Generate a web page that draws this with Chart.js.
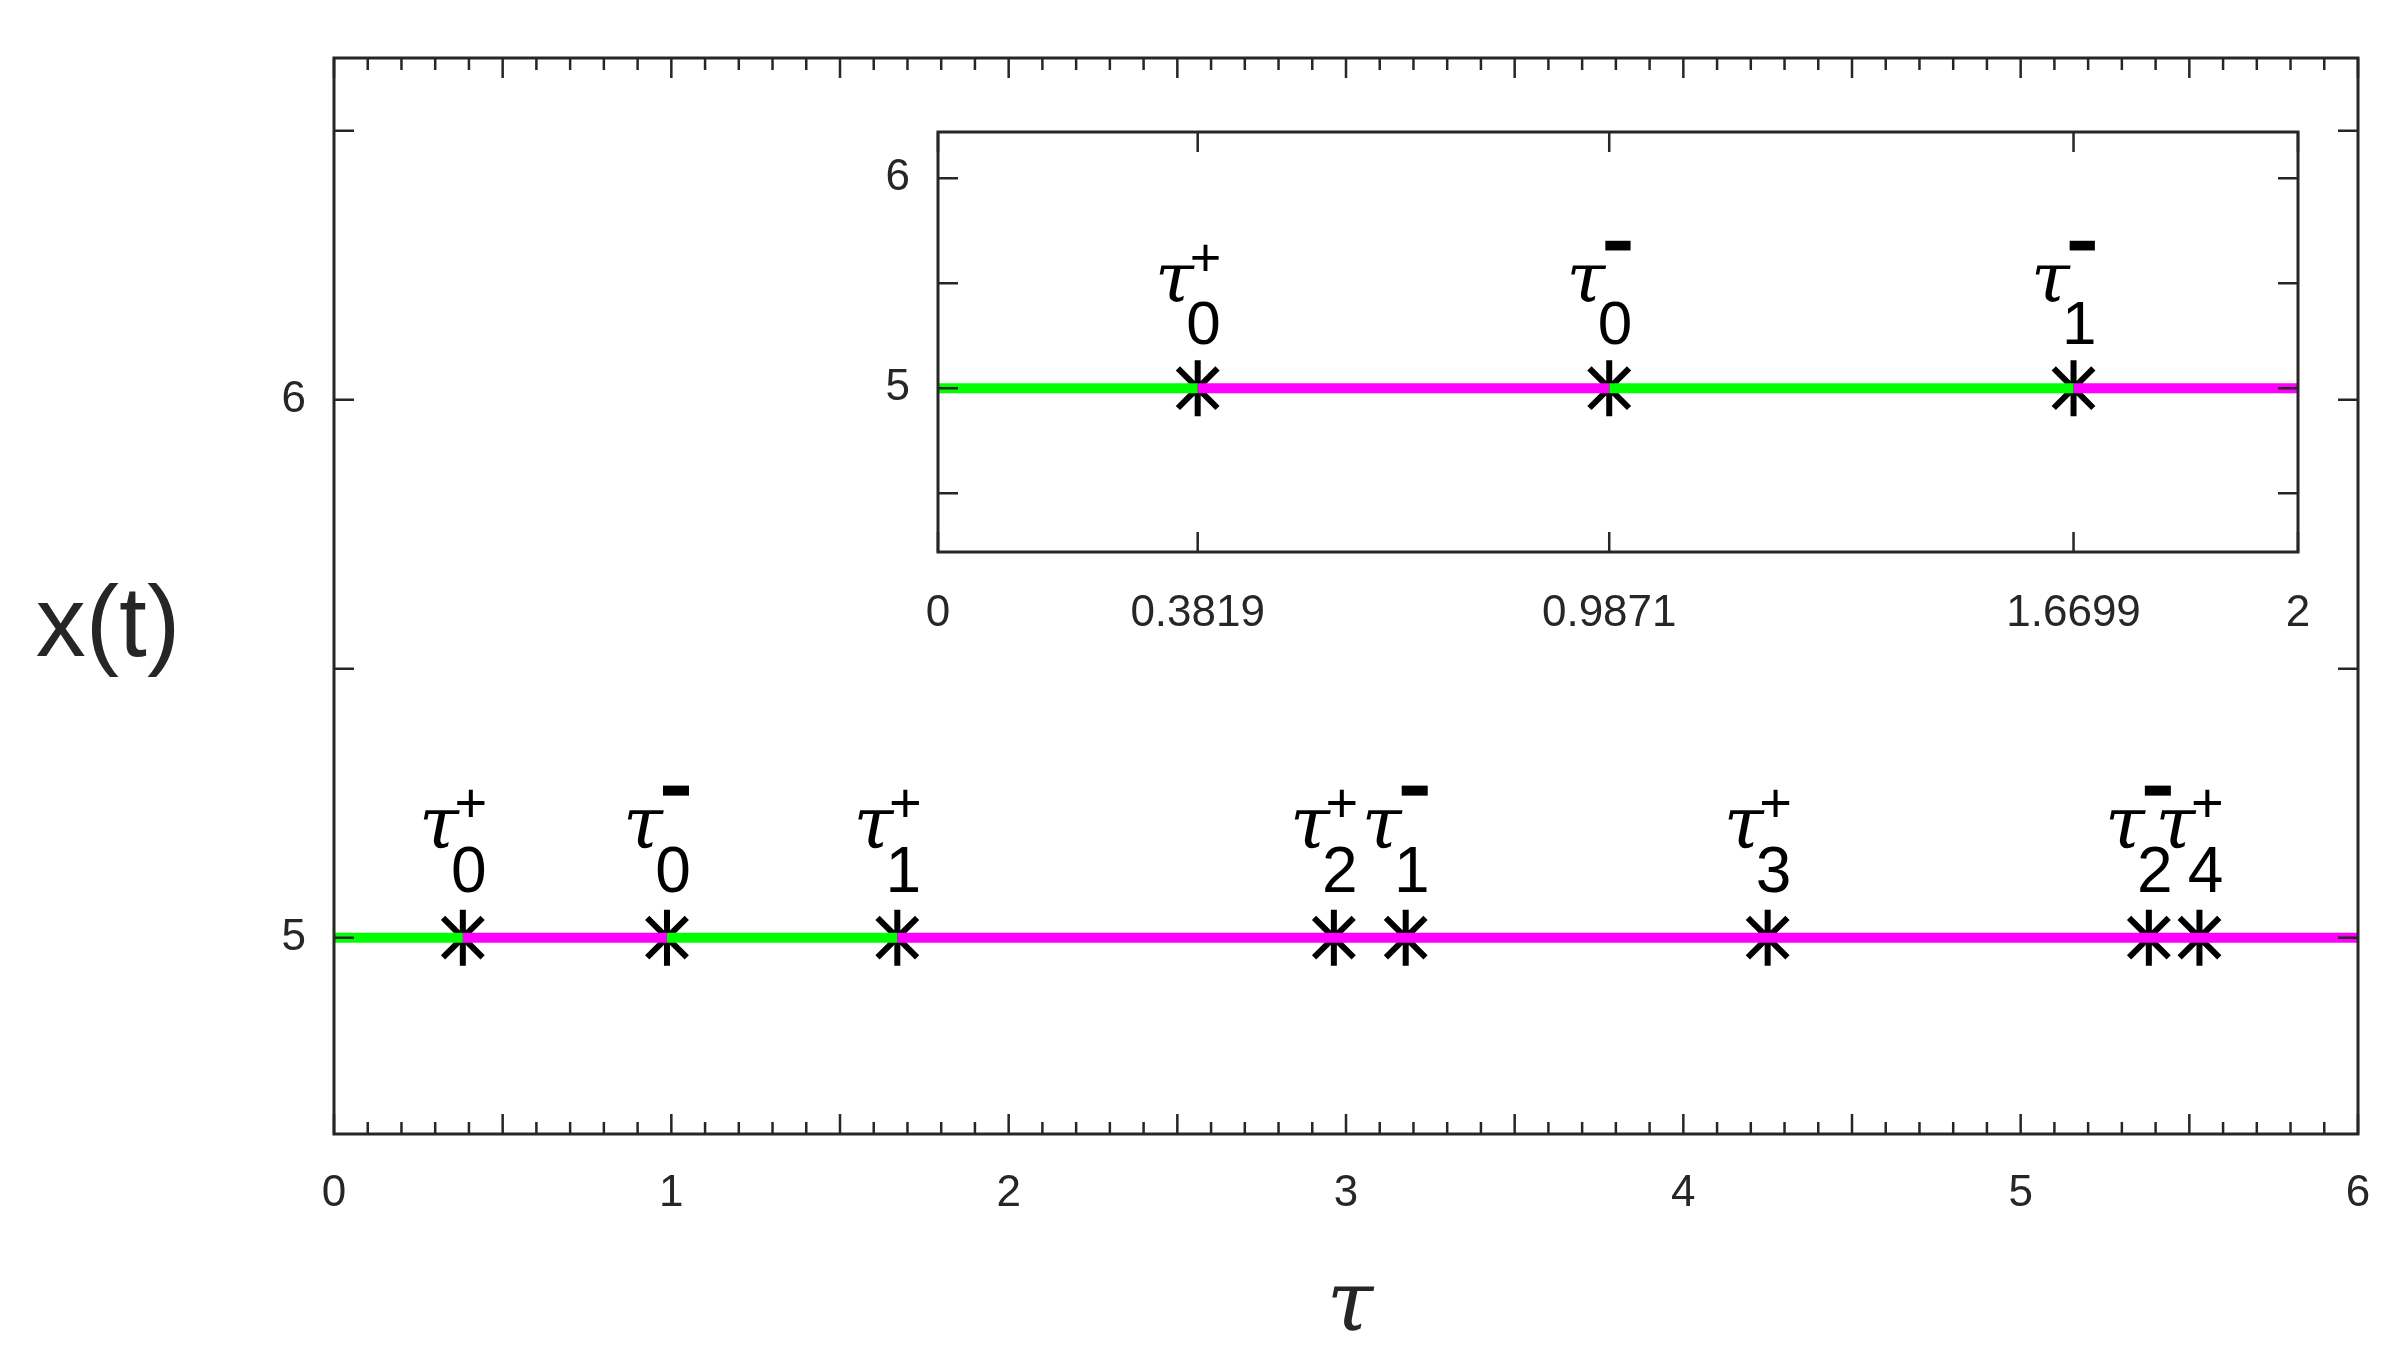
<!DOCTYPE html>
<html>
<head>
<meta charset="UTF-8">
<script src="https://cdn.jsdelivr.net/npm/chart.js"></script>
<style>
  body { margin: 0; background: #fff; }
  #wrap { position: relative; width: 2403px; height: 1360px; }
  canvas { position: absolute; left: 0; top: 0; }
</style>
</head>
<body>
<div id="wrap">
  <canvas id="main" width="2403" height="1360"></canvas>
  <canvas id="inset" width="2403" height="1360"></canvas>
</div>
<script>
// main plot data
var segBreaks = [0, 0.3819, 0.9871, 1.6699, 6];
var segColors = ['#00ff00', '#ff00ff', '#00ff00', '#ff00ff'];
var markX = [0.3819, 0.9871, 1.6699, 2.964, 3.177, 4.25, 5.38, 5.53];
var markSub = ['0', '0', '1', '2', '1', '3', '2', '4'];
var markSign = ['+', '-', '+', '+', '-', '+', '-', '+'];
var yValue = 5;
var mainXTicks = [0, 1, 2, 3, 4, 5, 6];
var mainYTicks = [5, 6];

// inset data
var insetBreaks = [0, 0.3819, 0.9871, 1.6699, 2];
var insetColors = ['#00ff00', '#ff00ff', '#00ff00', '#ff00ff'];
var insetMarkX = [0.3819, 0.9871, 1.6699];
var insetSub = ['0', '0', '1'];
var insetSign = ['+', '-', '-'];
var insetXTicks = ['0', '0.3819', '0.9871', '1.6699', '2'];
var insetYTicks = [5, 6];

var narrow = '"Liberation Sans Narrow", "Liberation Sans", Arial, sans-serif';

function makeDatasets(breaks, colors, marks) {
    var ds = [];
    for (var i = 0; i < colors.length; i++) {
        ds.push({
            data: [{x: breaks[i], y: yValue}, {x: breaks[i + 1], y: yValue}],
            borderColor: colors[i], borderWidth: 10, pointRadius: 0, showLine: true
        });
    }
    ds.push({
        data: marks.map(function (v) { return {x: v, y: yValue}; }),
        showLine: false, pointStyle: 'star', pointRadius: 28,
        borderColor: '#000', backgroundColor: '#000', pointBorderWidth: 6
    });
    return ds;
}

// draws box, inward ticks, tick labels and tau annotations
function decorPlugin(cfg) {
    return {
        id: 'decor',
        beforeDraw: function (chart) {
            var a = chart.chartArea, c = chart.ctx;
            c.save();
            c.fillStyle = '#fff';
            c.fillRect(a.left, a.top, a.right - a.left, a.bottom - a.top);
            c.restore();
        },
        afterDraw: function (chart) {
            var a = chart.chartArea, c = chart.ctx;
            var xs = chart.scales.x, ys = chart.scales.y;
            c.save();
            c.strokeStyle = '#262626';
            c.lineWidth = 3;
            c.strokeRect(a.left, a.top, a.right - a.left, a.bottom - a.top);
            c.lineWidth = 2.5;
            cfg.xTickVals.forEach(function (t) {
                var px = xs.getPixelForValue(t.v);
                var len = t.major ? 20 : 12;
                c.beginPath();
                c.moveTo(px, a.bottom); c.lineTo(px, a.bottom - len);
                c.moveTo(px, a.top); c.lineTo(px, a.top + len);
                c.stroke();
            });
            cfg.yTickVals.forEach(function (v) {
                var py = ys.getPixelForValue(v);
                c.beginPath();
                c.moveTo(a.left, py); c.lineTo(a.left + 20, py);
                c.moveTo(a.right, py); c.lineTo(a.right - 20, py);
                c.stroke();
            });
            c.fillStyle = '#262626';
            c.font = '44px ' + narrow;
            c.textAlign = 'center'; c.textBaseline = 'middle';
            cfg.xLabels.forEach(function (l) {
                c.fillText(l, xs.getPixelForValue(parseFloat(l)), a.bottom + cfg.xLabelGap);
            });
            c.textAlign = 'right';
            cfg.yLabels.forEach(function (v) {
                c.fillText(String(v), a.left - 28, ys.getPixelForValue(v));
            });
            // tau labels
            var s = cfg.annScale;
            c.fillStyle = '#000';
            cfg.marks.forEach(function (m, i) {
                var px = xs.getPixelForValue(m), py = ys.getPixelForValue(yValue);
                c.textAlign = 'center'; c.textBaseline = 'alphabetic';
                c.font = 'italic ' + Math.round(72 * s) + 'px "DejaVu Serif", serif';
                c.fillText('\u03c4', px - 24 * s, py - 90 * s);
                c.font = Math.round(64 * s) + 'px ' + narrow;
                c.fillText(cfg.subs[i], px + 6 * s, py - 46 * s);
                if (cfg.signs[i] === '+') {
                    c.font = Math.round(56 * s) + 'px ' + narrow;
                    c.fillText('+', px + 8 * s, py - 116 * s);
                } else {
                    c.fillRect(px - 4 * s, py - 152 * s, 26 * s, 10 * s);
                }
            });
            c.restore();
        }
    };
}

function baseOptions(xmin, xmax, ymin, ymax, pad) {
    return {
        responsive: false, animation: false,
        layout: {padding: pad},
        plugins: {legend: {display: false}, tooltip: {enabled: false}},
        scales: {
            x: {type: 'linear', min: xmin, max: xmax, display: false},
            y: {type: 'linear', min: ymin, max: ymax, display: false}
        }
    };
}

// main chart
var mainXTickVals = [];
for (var i = 0; i <= 60; i++) mainXTickVals.push({v: i / 10, major: i % 5 === 0});
new Chart(document.getElementById('main'), {
    type: 'scatter',
    data: {datasets: makeDatasets(segBreaks, segColors, markX)},
    options: baseOptions(0, 6, 4.635, 6.635, {left: 334, right: 45, top: 58, bottom: 226}),
    plugins: [decorPlugin({
        xTickVals: mainXTickVals, yTickVals: [5, 5.5, 6, 6.5],
        xLabels: mainXTicks.map(String), xLabelGap: 60, yLabels: mainYTicks,
        marks: markX, subs: markSub, signs: markSign, annScale: 1
    }), {
        id: 'titles',
        afterDraw: function (chart) {
            var c = chart.ctx;
            c.save();
            c.fillStyle = '#262626';
            c.textAlign = 'center'; c.textBaseline = 'middle';
            c.font = '100px ' + narrow;
            c.fillText('x(t)', 108, 628);
            c.font = 'italic 84px "DejaVu Serif", serif';
            c.fillText('\u03c4', 1350, 1308);
            c.restore();
        }
    }]
});

// inset chart
new Chart(document.getElementById('inset'), {
    type: 'scatter',
    data: {datasets: makeDatasets(insetBreaks, insetColors, insetMarkX)},
    options: baseOptions(0, 2, 4.22, 6.22, {left: 938, right: 105, top: 132, bottom: 808}),
    plugins: [decorPlugin({
        xTickVals: insetXTicks.map(function (t) { return {v: parseFloat(t), major: true}; }),
        yTickVals: [4.5, 5, 5.5, 6],
        xLabels: insetXTicks, xLabelGap: 62, yLabels: insetYTicks,
        marks: insetMarkX, subs: insetSub, signs: insetSign, annScale: 0.97
    })]
});
</script>
</body>
</html>
